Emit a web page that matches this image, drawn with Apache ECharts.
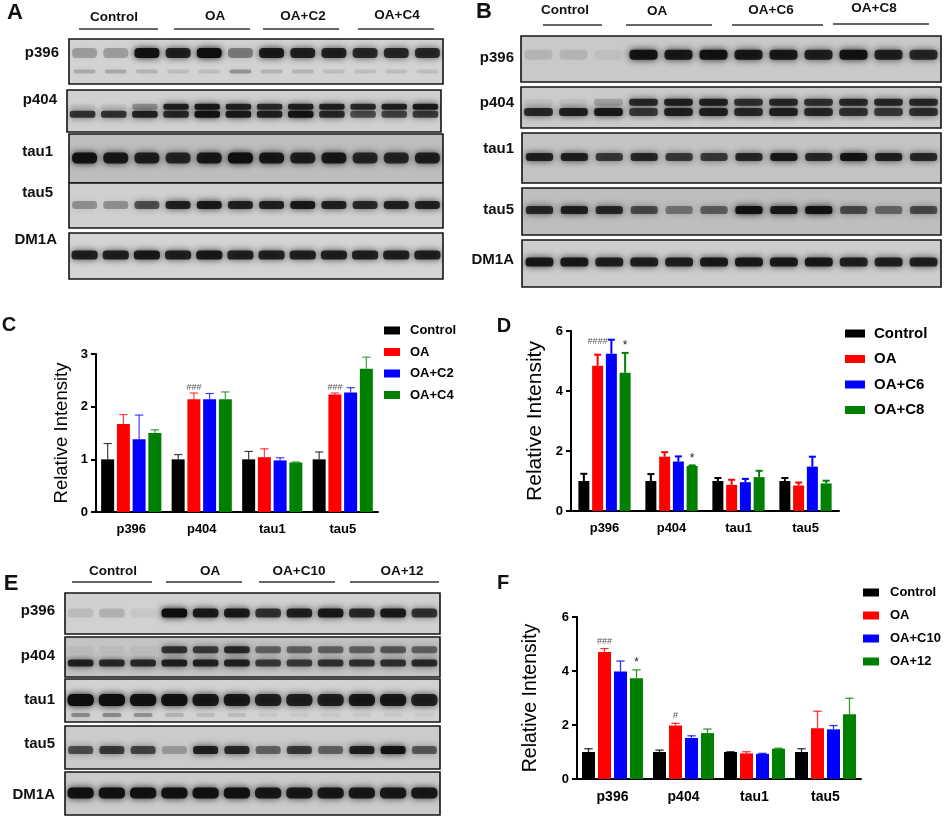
<!DOCTYPE html>
<html>
<head>
<meta charset="utf-8">
<title>tau western blots</title>
<script src="https://cdn.jsdelivr.net/npm/echarts@6/dist/echarts.min.js"></script>
<style>
html, body { margin: 0; padding: 0; background: #fff; }
#main { width: 948px; height: 817px; }
</style>
</head>
<body>
<div id="main"></div>
<script>
var FONT = 'Liberation Sans, Arial, sans-serif';
var markers = ['p396', 'p404', 'tau1', 'tau5'];
var laneIdx = [0, 1, 2, 3, 4, 5, 6, 7, 8, 9, 10, 11];
var barColors = ['#000000', '#ff0000', '#0000ff', '#008000'];

// ---- C ----
var cNames = ['Control', 'OA', 'OA+C2', 'OA+C4'];
var cControl = [1, 1, 1, 1];
var cOA = [1.67, 2.14, 1.04, 2.23];
var cC2 = [1.38, 2.14, 0.98, 2.27];
var cC4 = [1.50, 2.14, 0.94, 2.72];
var cControlErr = [1.30, 1.09, 1.15, 1.14];
var cOAErr = [1.85, 2.26, 1.20, 2.26];
var cC2Err = [1.84, 2.25, 1.03, 2.36];
var cC4Err = [1.56, 2.28, 0.95, 2.94];
var cMarks = [[1, 1, '###'], [3, 1, '###']];

// ---- D ----
var dNames = ['Control', 'OA', 'OA+C6', 'OA+C8'];
var dControl = [1, 1, 1, 1];
var dOA = [4.84, 1.81, 0.87, 0.85];
var dC6 = [5.24, 1.65, 0.96, 1.48];
var dC8 = [4.61, 1.50, 1.13, 0.92];
var dControlErr = [1.24, 1.23, 1.10, 1.10];
var dOAErr = [5.21, 1.96, 1.04, 0.95];
var dC6Err = [5.71, 1.82, 1.07, 1.81];
var dC8Err = [5.27, 1.52, 1.34, 1.01];
var dMarks = [[0, 1, '####'], [0, 3, '*'], [1, 3, '*']];

// ---- F ----
var fNames = ['Control', 'OA', 'OA+C10', 'OA+12'];
var fControl = [1, 1, 1, 1];
var fOA = [4.70, 1.98, 0.95, 1.88];
var fC10 = [3.98, 1.52, 0.93, 1.84];
var f12 = [3.73, 1.70, 1.12, 2.40];
var fControlErr = [1.12, 1.07, 1.01, 1.12];
var fOAErr = [4.83, 2.06, 1.01, 2.51];
var fC10Err = [4.37, 1.60, 0.95, 1.98];
var f12Err = [4.04, 1.85, 1.14, 2.99];
var fMarks = [[0, 1, '###'], [0, 3, '*'], [1, 1, '#']];

// ---- blot band intensities (0-1), 12 lanes ----
var aP396 = [0.25, 0.25, 0.95, 0.85, 1.0, 0.4, 0.9, 0.85, 0.85, 0.8, 0.8, 0.8];
var aP396Faint = [0.2, 0.2, 0.15, 0.1, 0.1, 0.3, 0.15, 0.15, 0.1, 0.1, 0.1, 0.1];
var aP404 = [0.75, 0.75, 0.85, 0.8, 0.95, 0.9, 0.85, 0.95, 0.8, 0.6, 0.65, 0.7];
var aP404Hi = [0.05, 0.05, 0.3, 0.85, 0.9, 0.85, 0.8, 0.85, 0.85, 0.8, 0.85, 0.9];
var aTau1 = [0.95, 0.9, 0.85, 0.8, 0.9, 1.0, 0.9, 0.85, 0.9, 0.8, 0.8, 0.85];
var aTau5 = [0.3, 0.3, 0.6, 0.85, 0.9, 0.85, 0.85, 0.9, 0.85, 0.8, 0.85, 0.85];
var aDM1A = [0.85, 0.85, 0.9, 0.85, 0.9, 0.85, 0.85, 0.85, 0.85, 0.85, 0.85, 0.85];

var bP396 = [0.1, 0.1, 0.05, 0.95, 0.9, 0.95, 0.9, 0.9, 0.85, 0.95, 0.85, 0.8];
var bP404 = [0.8, 0.85, 0.9, 0.7, 0.85, 0.85, 0.8, 0.85, 0.8, 0.75, 0.7, 0.75];
var bP404Hi = [0.05, 0.05, 0.2, 0.8, 0.85, 0.85, 0.75, 0.8, 0.75, 0.8, 0.8, 0.8];
var bTau1 = [0.85, 0.85, 0.7, 0.8, 0.7, 0.7, 0.8, 0.9, 0.8, 0.95, 0.85, 0.8];
var bTau5 = [0.8, 0.85, 0.8, 0.6, 0.4, 0.5, 0.95, 0.9, 0.95, 0.6, 0.45, 0.6];
var bDM1A = [0.9, 0.9, 0.85, 0.85, 0.85, 0.9, 0.9, 0.9, 0.9, 0.85, 0.85, 0.85];

var eP396 = [0.1, 0.15, 0.05, 1.0, 0.9, 0.9, 0.75, 0.85, 0.9, 0.8, 0.9, 0.75];
var eP404 = [0.85, 0.8, 0.8, 0.85, 0.85, 0.85, 0.7, 0.7, 0.75, 0.75, 0.75, 0.8];
var eP404Hi = [0.05, 0.05, 0.05, 0.75, 0.7, 0.8, 0.5, 0.5, 0.5, 0.5, 0.55, 0.5];
var eTau1 = [1.0, 1.0, 0.95, 0.95, 0.9, 0.9, 0.85, 0.85, 0.85, 0.9, 0.9, 0.85];
var eTau1Faint = [0.35, 0.35, 0.3, 0.15, 0.1, 0.1, 0.05, 0.05, 0.05, 0.05, 0.05, 0.05];
var eTau5 = [0.6, 0.7, 0.65, 0.25, 0.85, 0.8, 0.5, 0.7, 0.5, 0.85, 0.95, 0.55];
var eDM1A = [0.95, 0.95, 0.95, 0.95, 0.95, 0.95, 0.9, 0.9, 0.9, 0.9, 0.9, 0.9];

var grids = [], xAxes = [], yAxes = [], series = [], legends = [], graphics = [];

// one blot strip = one grid with its own hidden axes
function addBlot(row) {
    var gi = grids.length;
    grids.push({
        left: row.box[0], top: row.box[1], width: row.box[2], height: row.box[3],
        show: true, backgroundColor: row.bg, borderColor: '#151515', borderWidth: 1.6
    });
    xAxes.push({ gridIndex: gi, type: 'category', data: laneIdx, show: false });
    yAxes.push({ gridIndex: gi, type: 'value', min: 0, max: 1, show: false });
    row.bands.forEach(function (b) {
        series.push({
            type: 'custom', xAxisIndex: gi, yAxisIndex: gi, silent: true, clip: true,
            data: b.vals.map(function (v, i) { return [i, v]; }),
            renderItem: function (params, api) {
                var c = api.coord([api.value(0), 1 - b.y]);
                var w = api.size([1, 0])[0] * b.w;
                var a = api.value(1);
                return {
                    type: 'rect',
                    shape: { x: c[0] - w / 2, y: c[1] - b.h / 2, width: w, height: b.h, r: b.h * 0.4 },
                    style: {
                        fill: 'rgba(14,14,14,' + a + ')',
                        shadowBlur: 7, shadowColor: 'rgba(14,14,14,' + a + ')'
                    }
                };
            }
        });
    });
}

function addBars(cfg) {
    var gi = grids.length;
    grids.push({ left: cfg.box[0], top: cfg.box[1], width: cfg.box[2], height: cfg.box[3] });
    xAxes.push({
        gridIndex: gi, type: 'category', data: markers,
        axisLine: { lineStyle: { color: '#000', width: 2 } },
        axisTick: { alignWithLabel: true, length: 5, lineStyle: { color: '#000', width: 2 } },
        axisLabel: { color: '#000', fontWeight: 'bold', fontSize: cfg.xFont, margin: 11, fontFamily: FONT }
    });
    yAxes.push({
        gridIndex: gi, type: 'value', min: 0, max: cfg.max, interval: cfg.interval,
        name: 'Relative Intensity', nameLocation: 'middle', nameGap: cfg.nameGap,
        nameTextStyle: { color: '#000', fontSize: cfg.nameFont, fontFamily: FONT },
        axisLine: { show: true, lineStyle: { color: '#000', width: 2 } },
        axisTick: { show: true, length: 5, lineStyle: { color: '#000', width: 2 } },
        axisLabel: { color: '#000', fontWeight: 'bold', fontSize: cfg.yFont, margin: 8, fontFamily: FONT },
        splitLine: { show: false }
    });
    cfg.vals.forEach(function (vals, si) {
        series.push({
            type: 'bar', name: cfg.names[si], xAxisIndex: gi, yAxisIndex: gi, data: vals,
            barWidth: cfg.barW, barGap: cfg.barGap, itemStyle: { color: barColors[si] },
            emphasis: { disabled: true }
        });
    });
    var step = cfg.barW * (1 + parseFloat(cfg.barGap) / 100);
    var errData = [];
    cfg.errs.forEach(function (tops, si) {
        tops.forEach(function (t, ci) { errData.push([ci, cfg.vals[si][ci], t, si]); });
    });
    series.push({
        type: 'custom', xAxisIndex: gi, yAxisIndex: gi, silent: true, data: errData,
        renderItem: function (params, api) {
            var si = api.value(3);
            var base = api.coord([api.value(0), api.value(1)]);
            var top = api.coord([api.value(0), api.value(2)]);
            var x = base[0] + (si - 1.5) * step;
            var cw = cfg.barW * 0.32;
            var st = { stroke: barColors[si], lineWidth: cfg.errW, opacity: cfg.errOp };
            return {
                type: 'group', children: [
                    { type: 'line', shape: { x1: x, y1: base[1], x2: x, y2: top[1] }, style: st },
                    { type: 'line', shape: { x1: x - cw, y1: top[1], x2: x + cw, y2: top[1] }, style: st }
                ]
            };
        }
    });
    series.push({
        type: 'custom', xAxisIndex: gi, yAxisIndex: gi, silent: true,
        data: cfg.marks.map(function (m) { return [m[0], cfg.errs[m[1]][m[0]], m[1]]; }),
        renderItem: function (params, api) {
            var si = api.value(2);
            var p = api.coord([api.value(0), api.value(1)]);
            var t = cfg.marks[params.dataIndex][2];
            var star = t === '*';
            return {
                type: 'text',
                style: {
                    text: t, x: p[0] + (si - 1.5) * step, y: p[1] - (star ? 1 : cfg.hashLift),
                    align: 'center', verticalAlign: 'bottom',
                    fill: star ? '#222' : '#555',
                    fontSize: star ? 12 : 9, fontFamily: FONT
                }
            };
        }
    });
    legends.push({
        data: cfg.names, orient: 'vertical', left: cfg.leg[0], top: cfg.leg[1],
        itemWidth: cfg.leg[2], itemHeight: cfg.leg[3], itemGap: cfg.leg[4], icon: 'rect',
        selectedMode: false,
        textStyle: { color: '#000', fontWeight: 'bold', fontSize: cfg.leg[5], fontFamily: FONT, padding: [0, 0, 0, cfg.leg[6]] }
    });
}

function txt(x, y, s, size, align) {
    graphics.push({
        type: 'text', x: x, y: y, silent: true,
        style: { text: s, align: align || 'center', verticalAlign: 'middle', fill: '#111', font: 'bold ' + size + 'px ' + FONT }
    });
}
function uline(x1, x2, y) {
    graphics.push({ type: 'line', silent: true, shape: { x1: x1, y1: y, x2: x2, y2: y }, style: { stroke: '#333', lineWidth: 1.6 } });
}

// ---- blot panels ----
[
    { box: [69, 39, 374, 45], bg: '#d3d3d3', bands: [{ vals: aP396Faint, y: 0.72, h: 4, w: 0.7 }, { vals: aP396, y: 0.31, h: 10, w: 0.8 }] },
    { box: [67, 90, 374, 42], bg: '#d0d0d0', bands: [{ vals: aP404Hi, y: 0.4, h: 6, w: 0.82 }, { vals: aP404, y: 0.58, h: 7, w: 0.82 }] },
    { box: [69, 134, 374, 49], bg: '#bdbdbd', bands: [{ vals: aTau1, y: 0.49, h: 11, w: 0.8 }] },
    { box: [69, 183, 374, 45], bg: '#d0d0d0', bands: [{ vals: aTau5, y: 0.49, h: 8, w: 0.8 }] },
    { box: [69, 233, 374, 46], bg: '#d4d4d4', bands: [{ vals: aDM1A, y: 0.48, h: 9, w: 0.84 }] },

    { box: [521, 36, 420, 46], bg: '#c9c9c9', bands: [{ vals: bP396, y: 0.41, h: 10, w: 0.8 }] },
    { box: [521, 87, 420, 41], bg: '#cbcbcb', bands: [{ vals: bP404Hi, y: 0.37, h: 7, w: 0.82 }, { vals: bP404, y: 0.61, h: 8, w: 0.82 }] },
    { box: [522, 133, 419, 50], bg: '#c4c4c4', bands: [{ vals: bTau1, y: 0.48, h: 8, w: 0.78 }] },
    { box: [522, 188, 419, 47], bg: '#bebebe', bands: [{ vals: bTau5, y: 0.47, h: 8, w: 0.78 }] },
    { box: [522, 240, 419, 47], bg: '#cdcdcd', bands: [{ vals: bDM1A, y: 0.47, h: 9, w: 0.8 }] },

    { box: [65, 593, 375, 41], bg: '#d1d1d1', bands: [{ vals: eP396, y: 0.49, h: 9, w: 0.82 }] },
    { box: [65, 637, 375, 40], bg: '#c4c4c4', bands: [{ vals: eP404Hi, y: 0.32, h: 7, w: 0.82 }, { vals: eP404, y: 0.65, h: 7, w: 0.82 }] },
    { box: [65, 679, 375, 43], bg: '#d2d2d2', bands: [{ vals: eTau1Faint, y: 0.84, h: 4, w: 0.6 }, { vals: eTau1, y: 0.49, h: 12, w: 0.84 }] },
    { box: [65, 726, 375, 43], bg: '#cbcbcb', bands: [{ vals: eTau5, y: 0.56, h: 8, w: 0.8 }] },
    { box: [65, 772, 375, 43], bg: '#cbcbcb', bands: [{ vals: eDM1A, y: 0.49, h: 11, w: 0.84 }] }
].forEach(addBlot);

// ---- bar panels ----
addBars({
    box: [96, 354, 282, 158], max: 3, interval: 1, names: cNames,
    vals: [cControl, cOA, cC2, cC4], errs: [cControlErr, cOAErr, cC2Err, cC4Err], marks: cMarks,
    barW: 13, barGap: '21%', errW: 1.2, errOp: 0.75, hashLift: 1,
    xFont: 13, yFont: 13, nameFont: 18.5, nameGap: 25,
    leg: [379, 319, 16, 8, 8.5, 13, 5]
});
addBars({
    box: [571, 331, 268, 180], max: 6, interval: 2, names: dNames,
    vals: [dControl, dOA, dC6, dC8], errs: [dControlErr, dOAErr, dC6Err, dC8Err], marks: dMarks,
    barW: 11, barGap: '25%', errW: 2, errOp: 1, hashLift: 9,
    xFont: 13, yFont: 13, nameFont: 21, nameGap: 25,
    leg: [840, 321, 20, 8, 10.5, 15, 4]
});
addBars({
    box: [577, 617, 284, 162], max: 6, interval: 2, names: fNames,
    vals: [fControl, fOA, fC10, f12], errs: [fControlErr, fOAErr, fC10Err, f12Err], marks: fMarks,
    barW: 13, barGap: '23%', errW: 1.3, errOp: 0.8, hashLift: 3,
    xFont: 14, yFont: 13, nameFont: 19.5, nameGap: 36,
    leg: [858, 581, 16, 8, 10, 13, 6]
});

// ---- labels ----
txt(15, 13, 'A', 22); txt(484, 12, 'B', 22); txt(9, 325, 'C', 20);
txt(504, 326, 'D', 20); txt(11, 584, 'E', 22); txt(503, 583, 'F', 20);

txt(114, 17, 'Control', 13.5); txt(215, 16, 'OA', 13.5); txt(303, 16, 'OA+C2', 13.5); txt(397, 15, 'OA+C4', 13.5);
uline(79, 158, 29); uline(174, 250, 29); uline(263, 339, 29); uline(358, 434, 29);
txt(565, 10, 'Control', 13.5); txt(657, 11, 'OA', 13.5); txt(771, 10, 'OA+C6', 13.5); txt(874, 8, 'OA+C8', 13.5);
uline(543, 602, 25); uline(626, 712, 25); uline(732, 823, 25); uline(833, 929, 24);
txt(113, 571, 'Control', 13.5); txt(210, 571, 'OA', 13.5); txt(299, 571, 'OA+C10', 13.5); txt(402, 571, 'OA+12', 13.5);
uline(72, 152, 582); uline(166, 242, 582); uline(259, 335, 582); uline(350, 439, 582);

txt(59, 53, 'p396', 15, 'right'); txt(57, 100, 'p404', 15, 'right'); txt(53, 152, 'tau1', 15, 'right');
txt(53, 193, 'tau5', 15, 'right'); txt(57, 240, 'DM1A', 15, 'right');
txt(514, 58, 'p396', 15, 'right'); txt(514, 103, 'p404', 15, 'right'); txt(514, 149, 'tau1', 15, 'right');
txt(514, 210, 'tau5', 15, 'right'); txt(514, 260, 'DM1A', 15, 'right');
txt(55, 611, 'p396', 15, 'right'); txt(55, 656, 'p404', 15, 'right'); txt(55, 700, 'tau1', 15, 'right');
txt(55, 744, 'tau5', 15, 'right'); txt(55, 795, 'DM1A', 15, 'right');

var myChart = echarts.init(document.getElementById('main'));
myChart.setOption({
    animation: false,
    backgroundColor: '#fff',
    grid: grids,
    xAxis: xAxes,
    yAxis: yAxes,
    legend: legends,
    series: series,
    graphic: graphics
});
</script>
</body>
</html>
